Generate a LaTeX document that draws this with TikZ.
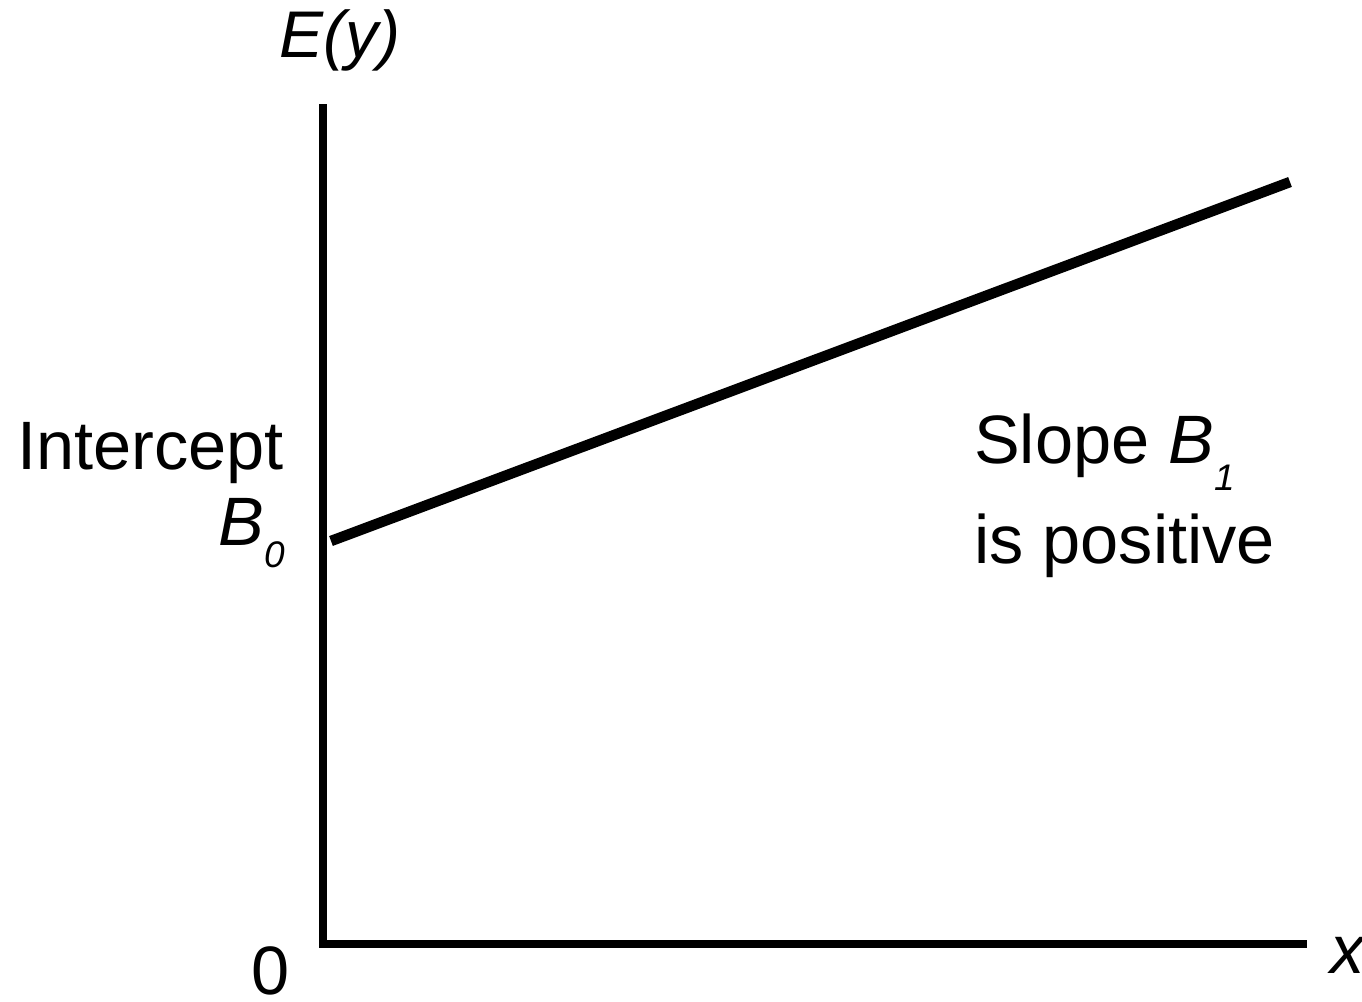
\documentclass[tikz,border=0pt]{standalone}
\usepackage{fontspec}
\setmainfont{Liberation Sans}
\begin{document}
\begin{tikzpicture}[x=1pt,y=-1pt,
  axis/.style={line width=7.5pt,line join=miter,line cap=butt},
  regline/.style={line width=10.5pt,line cap=butt},
  lbl/.style={inner sep=0pt,font=\fontsize{68.5}{76}\selectfont}]
\useasboundingbox (0,0) rectangle (1362,1001);
% axes
\coordinate (ytop) at (323,104);
\coordinate (origin) at (323,944);
\coordinate (xend) at (1306.5,944);
\draw[axis] (ytop) -- (origin) -- (xend);
% regression line
\coordinate (b0) at (331,541);
\coordinate (lend) at (1290,182);
\draw[regline] (b0) -- (lend);
% labels
\node[lbl,anchor=base,font=\fontsize{66}{76}\selectfont] (ey) at (340,57) {\itshape E(y)};
\node[lbl,anchor=base east] (intercept) at (284,469) {Intercept};
\node[lbl,anchor=base east] (b0lbl) at (285,545) {\itshape B\raisebox{-22pt}{\fontsize{37}{40}\selectfont 0}};
\node[lbl,anchor=base west] (slope) at (974,463) {Slope \itshape B\raisebox{-27pt}{\fontsize{37}{40}\selectfont 1}};
\node[lbl,anchor=base west] (pos) at (974,563) {is positive};
\node[lbl,anchor=base] (zero) at (271,994) {0};
\node[lbl,anchor=base west] (xlbl) at (1330,973) {\itshape x};
\end{tikzpicture}
\end{document}
